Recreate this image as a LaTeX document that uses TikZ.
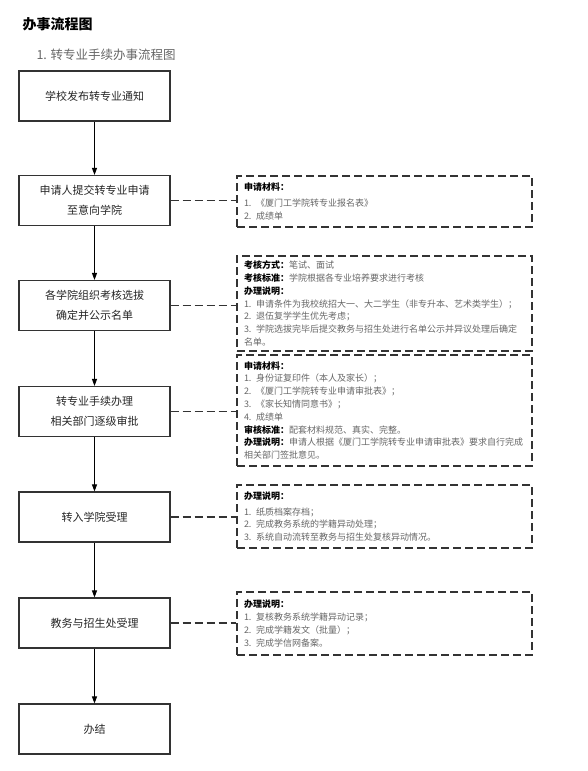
\documentclass[tikz,border=0pt]{standalone}
\usepackage{fontspec}
\setmainfont{Noto Sans CJK SC}
\usepackage{xcolor}
\usetikzlibrary{arrows.meta,positioning}
\definecolor{notegray}{HTML}{666666}
\definecolor{edgegray}{HTML}{333333}
\newcommand{\memohead}[1]{\textcolor{black}{\bfseries #1}}

\begin{document}
\begin{tikzpicture}[x=1pt, y=-1pt,
  flow/.style={rectangle, draw=edgegray, line width=1.1pt, minimum width=151pt, minimum height=50pt, align=center, text=black!85, font=\fontsize{11}{20}\selectfont},
  memo/.style={rectangle, draw=edgegray, line width=1.1pt, dash pattern=on 8pt off 4pt, inner xsep=7pt, text width=281pt, align=left, text=notegray, font=\fontsize{9}{12.8}\selectfont},
  link/.style={draw=edgegray, line width=1.1pt, dash pattern=on 8pt off 4pt},
  go/.style={-{Triangle[length=7pt,width=5pt]}, draw=black, line width=1pt}
]
  \useasboundingbox (0,0) rectangle (588,771);
  \node[anchor=west, font=\fontsize{14}{16}\selectfont\bfseries] (title) at (19,24) {办事流程图};
  \node[anchor=west, text=notegray, font=\fontsize{12.5}{15}\selectfont] (subtitle) at (33,55) {1. 转专业手续办事流程图};

  % main steps
  \node[flow] (s1) at (94.5,96) {学校发布转专业通知};
  \node[flow] (s2) at (94.5,200.5) {申请人提交转专业申请\\至意向学院};
  \node[flow] (s3) at (94.5,305.5) {各学院组织考核选拔\\确定并公示名单};
  \node[flow] (s4) at (94.5,411.5) {转专业手续办理\\相关部门逐级审批};
  \node[flow] (s5) at (94.5,517) {转入学院受理};
  \node[flow] (s6) at (94.5,623) {教务与招生处受理};
  \node[flow] (s7) at (94.5,729) {办结};
  \foreach \a/\b in {s1/s2,s2/s3,s3/s4,s4/s5,s5/s6,s6/s7}
    \draw[go] (\a) -- (\b);

  % notes on the right
  \node[memo, minimum height=51pt] (m1) at (384.5,201.5) {\memohead{申请材料：}\\[3pt]
    1. 《厦门工学院转专业报名表》\\
    2. 成绩单};
  \node[memo, minimum height=95pt] (m2) at (384.5,303.5) {\memohead{考核方式：}笔试、面试\\
    \memohead{考核标准：}学院根据各专业培养要求进行考核\\
    \memohead{办理说明：}\\
    1. 申请条件为我校统招大一、大二学生（非专升本、艺术类学生）；\\
    2. 退伍复学学生优先考虑；\\
    3. 学院选拔完毕后提交教务与招生处进行名单公示并异议处理后确定\\
    名单。};
  \node[memo, minimum height=111pt] (m3) at (384.5,410.5) {\memohead{申请材料：}\\
    1. 身份证复印件（本人及家长）；\\
    2. 《厦门工学院转专业申请审批表》；\\
    3. 《家长知情同意书》；\\
    4. 成绩单\\
    \memohead{审核标准：}配套材料规范、真实、完整。\\
    \memohead{办理说明：}申请人根据《厦门工学院转专业申请审批表》要求自行完成\\
    相关部门签批意见。};
  \node[memo, minimum height=63pt] (m4) at (384.5,516.5) {\memohead{办理说明：}\\[3pt]
    1. 纸质档案存档；\\
    2. 完成教务系统的学籍异动处理；\\
    3. 系统自动流转至教务与招生处复核异动情况。};
  \node[memo, minimum height=63pt] (m5) at (384.5,623.5) {\memohead{办理说明：}\\
    1. 复核教务系统学籍异动记录；\\
    2. 完成学籍发文（批量）；\\
    3. 完成学信网备案。};
  \foreach \a/\b in {s2/m1,s3/m2,s4/m3,s5/m4,s6/m5}
    \draw[link] (\a.east) -- (\a.east -| \b.west);
\end{tikzpicture}
\end{document}
